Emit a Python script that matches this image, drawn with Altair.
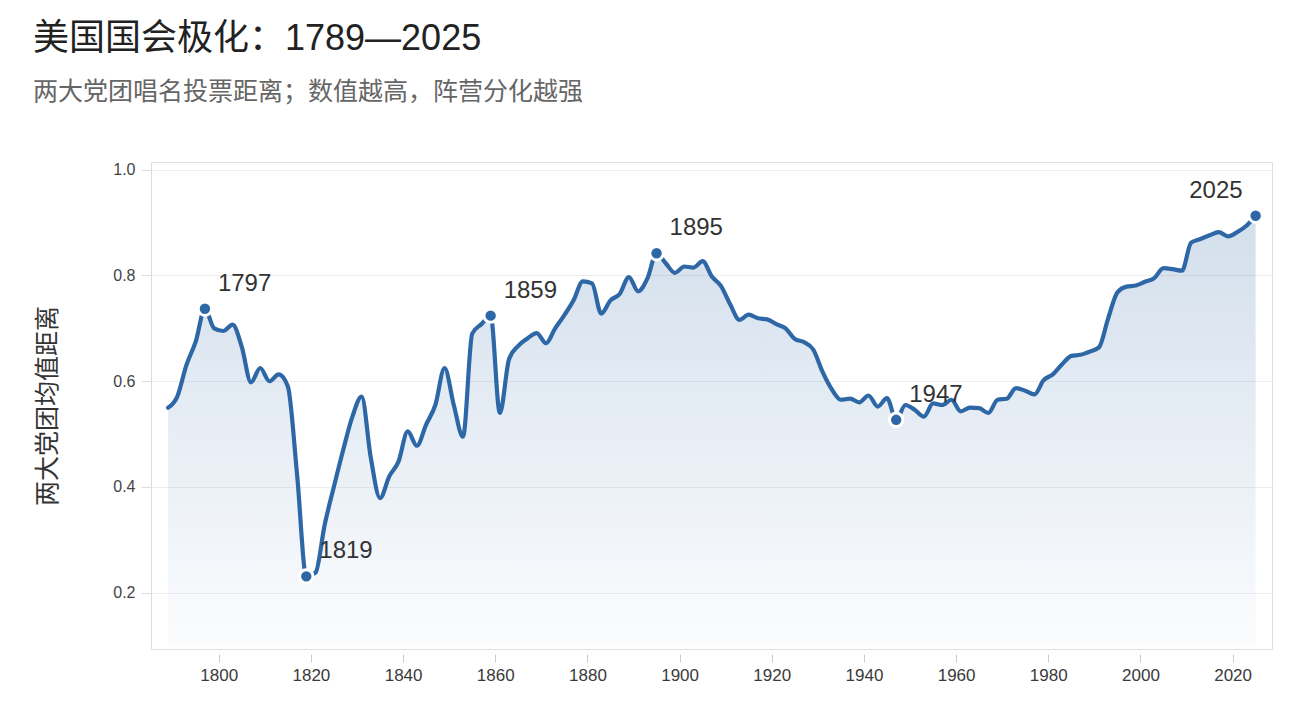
import altair as alt
import pandas as pd

years = list(range(1789, 2026, 2))
values = [
    0.550, 0.571, 0.631, 0.675, 0.737, 0.700, 0.695, 0.707, 0.665, 0.598,
    0.625, 0.600, 0.613, 0.590, 0.423, 0.231, 0.238, 0.329, 0.401, 0.470,
    0.533, 0.571, 0.455, 0.379, 0.420, 0.448, 0.505, 0.478, 0.518, 0.555,
    0.625, 0.555, 0.495, 0.690, 0.708, 0.724, 0.540, 0.642, 0.667, 0.681,
    0.691, 0.672, 0.700, 0.725, 0.753, 0.789, 0.785, 0.728, 0.753, 0.765,
    0.797, 0.770, 0.794, 0.842, 0.823, 0.805, 0.817, 0.815, 0.827, 0.798,
    0.780, 0.745, 0.716, 0.726, 0.719, 0.717, 0.708, 0.700, 0.680, 0.674,
    0.660, 0.618, 0.585, 0.565, 0.567, 0.560, 0.573, 0.552, 0.568, 0.527,
    0.555, 0.546, 0.533, 0.558, 0.555, 0.565, 0.543, 0.550, 0.549, 0.540,
    0.565, 0.567, 0.587, 0.582, 0.575, 0.602, 0.613, 0.632, 0.648, 0.650,
    0.656, 0.664, 0.719, 0.768, 0.779, 0.781, 0.788, 0.795, 0.814, 0.812,
    0.809, 0.862, 0.869, 0.876, 0.882, 0.874, 0.882, 0.894, 0.913,
]
label_years = [1797, 1819, 1859, 1895, 1947, 2025]
x_ticks = [1800, 1820, 1840, 1860, 1880, 1900, 1920, 1940, 1960, 1980, 2000, 2020]
y_ticks = [0.2, 0.4, 0.6, 0.8, 1.0]

TITLE = "美国国会极化：1789—2025"
SUBTITLE = "两大党团唱名投票距离；数值越高，阵营分化越强"
Y_TITLE = "两大党团均值距离"

FONT = "Liberation Sans, Noto Sans CJK SC"
LINE_COLOR = "#2e67a6"

df = pd.DataFrame({"year": years, "value": values})
hl = df[df["year"].isin(label_years)].copy()
hl["label"] = hl["year"].astype(str)

x_enc = alt.X(
    "year:Q",
    scale=alt.Scale(domain=[1785.3, 2028.55], nice=False, zero=False),
    axis=alt.Axis(
        values=x_ticks, format="d", title=None, grid=False, domain=False,
        tickColor="#cccccc", tickSize=8, offset=5, labelPadding=5,
        labelFontSize=17, labelColor="#3a3a3a", labelFont=FONT,
    ),
)
y_scale = alt.Scale(domain=[0.0936, 1.0146], nice=False, zero=False)
y_enc = alt.Y(
    "value:Q",
    scale=y_scale,
    axis=alt.Axis(
        values=y_ticks, format=".1f", title=Y_TITLE, grid=True,
        gridColor="#eeeeee", gridWidth=1.2, domain=False,
        tickColor="#dddddd", tickSize=10, labelPadding=6,
        labelFontSize=16, labelColor="#444444", labelFont=FONT,
        titleFontSize=25, titleColor="#333333", titleFont=FONT,
        titleFontWeight="normal", titlePadding=52,
    ),
)

base = alt.Chart(df)

area = base.mark_area(
    interpolate="monotone",
    color=alt.Gradient(
        gradient="linear",
        stops=[
            alt.GradientStop(offset=0, color="rgba(46,103,166,0.21)"),
            alt.GradientStop(offset=1, color="rgba(46,103,166,0.02)"),
        ],
        x1=1, x2=1, y1=0, y2=1,
    ),
).encode(x=x_enc, y=y_enc, y2=alt.datum(0.1))

line = base.mark_line(
    interpolate="monotone", color=LINE_COLOR, strokeWidth=4.2,
    strokeCap="round", strokeJoin="round",
).encode(x="year:Q", y="value:Q")

pts = alt.Chart(hl).mark_point(
    filled=True, shape="circle", size=180, color=LINE_COLOR,
    stroke="white", strokeWidth=3, opacity=1,
).encode(x="year:Q", y="value:Q")

labels_left = alt.Chart(hl).transform_filter(
    alt.datum.year != 2025
).mark_text(
    align="left", baseline="middle", dx=13, dy=-25,
    fontSize=24, color="#333333", font=FONT,
).encode(x="year:Q", y="value:Q", text="label:N")

labels_right = alt.Chart(hl).transform_filter(
    alt.datum.year == 2025
).mark_text(
    align="right", baseline="middle", dx=-13, dy=-25,
    fontSize=24, color="#333333", font=FONT,
).encode(x="year:Q", y="value:Q", text="label:N")

chart = alt.layer(area, line, pts, labels_left, labels_right).properties(
    width=1121,
    height=487,
    autosize=alt.AutoSizeParams(type="none"),
    padding={"left": 143, "top": 154, "right": 30, "bottom": 40},
    title=alt.TitleParams(
        text=TITLE, subtitle=SUBTITLE, anchor="start", frame="group",
        dx=-118, offset=56, fontSize=36, fontWeight="normal",
        color="#222222", font=FONT, subtitleFont=FONT,
        subtitleFontSize=25, subtitleColor="#666666", subtitlePadding=22,
    ),
).configure_view(
    stroke="#e4e4e4", strokeWidth=1.5
).configure(background="white")

chart.save("out.html", embed_options={"renderer": "svg", "actions": False})
